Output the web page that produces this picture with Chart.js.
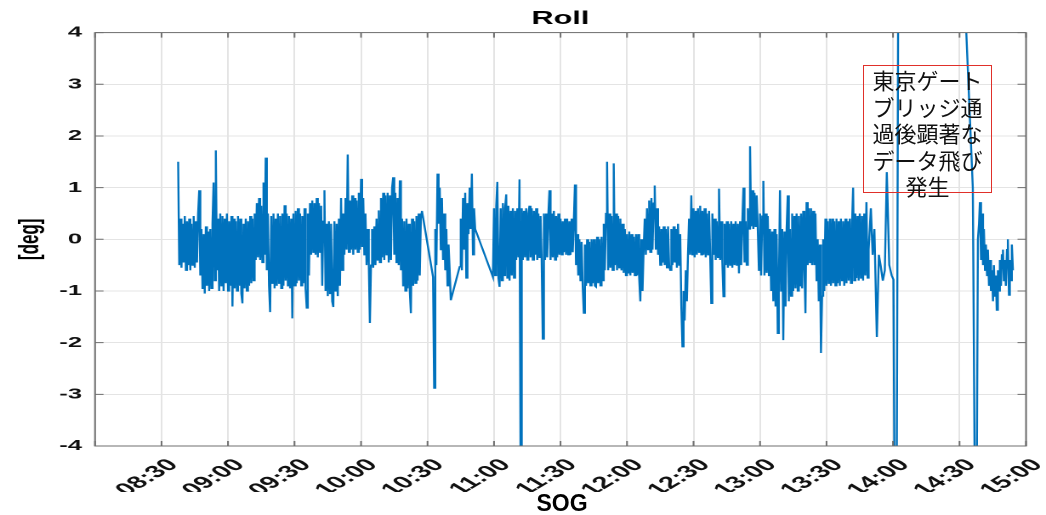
<!DOCTYPE html>
<html>
<head>
<meta charset="utf-8">
<title>Roll</title>
<script src="https://cdn.jsdelivr.net/npm/chart.js"></script>
<style>
  html, body { margin: 0; padding: 0; background: #fff; overflow: hidden; }
  /* the source figure was stretched sideways, so the chart is drawn narrow and scaled */
  #wrap { position: absolute; left: 0; top: 0; width: 615px; height: 515px; transform: scaleX(1.7008); transform-origin: 0 0; }
  #note { position: absolute; left: 863px; top: 65px; width: 129px; height: 128px; box-sizing: border-box;
          border: 1.5px solid #e0302a; font-family: "Noto Sans CJK JP"; font-size: 22px; line-height: 26.5px;
          text-align: center; color: #111; }
  #sog { position: absolute; left: 512px; top: 490px; width: 100px; text-align: center;
         font-family: "Liberation Sans"; font-weight: bold; font-size: 23px; line-height: 26px; color: #000; }
</style>
</head>
<body>
<div id="wrap"><canvas id="rollChart" width="615" height="515"></canvas></div>
<div id="note">東京ゲート<br>ブリッジ通<br>過後顕著な<br>データ飛び<br>発生</div>
<div id="sog">SOG</div>
<script>
// minutes after 08:00, one sample every half minute inside each logged stretch
const sampleStep = 0.5;
const segmentStarts = [37.5, 152.5, 164.5, 179.5];

// roll [deg]
const segA = [
  1.5,-0.5,0.4,-0.55,0.3,-0.45,0.45,-0.6,0.35,-0.5,
  0.4,-0.6,0.3,-0.5,0.45,-0.55,0.35,-0.45,0.5,0.95,
  -0.7,0.2,-0.95,0.1,-1.05,0.25,-0.9,0.15,-1.0,0.2,
  -0.95,0.3,1.1,-0.8,1.72,-0.6,0.4,-1.0,0.5,-0.9,
  0.45,-1.0,0.4,-0.85,0.5,-1.0,0.35,-0.9,0.45,-1.3,
  0.4,-0.95,0.35,-1.0,0.45,-0.9,0.4,-1.05,-1.24,0.3,
  -0.95,0.4,-1.0,0.35,-0.9,0.45,-0.85,0.4,-0.8,0.5,
  -0.4,0.7,-0.35,0.8,-0.4,0.65,-0.45,1.1,-0.3,1.58,
  -0.6,0.5,-0.9,-1.41,0.45,-0.85,0.5,-0.95,0.4,-0.9,
  0.5,-0.85,0.45,-0.95,0.5,-0.9,0.66,-0.8,0.5,-0.9,
  0.45,-0.95,0.4,-1.53,0.5,-0.9,0.55,-0.85,0.6,-0.8,
  0.5,-0.9,0.45,-0.85,0.6,-0.95,-1.33,0.5,-0.7,0.7,
  -0.3,0.75,-0.25,0.7,-0.3,0.8,-0.35,0.7,-0.25,0.65,
  -0.9,0.35,0.95,-1.0,0.3,-1.1,0.35,-1.05,0.3,-1.2,
  -1.31,0.35,-1.0,0.3,-1.1,0.4,-0.9,0.8,-0.6,0.5,
  -0.3,0.8,-0.2,1.64,-0.25,0.75,-0.2,0.85,-0.3,0.8,
  -0.2,0.75,-0.25,0.9,-0.2,1.17,-0.15,0.8,-0.3,0.5,
  -0.5,0.2,-0.45,-1.62,-0.5,0.2,-0.55,0.25,-0.5,0.4,
  -0.4,0.56,-0.45,0.8,-0.35,0.9,-0.4,0.85,-0.3,0.9,
  -0.45,0.85,-0.4,1.0,1.2,-0.3,0.9,-0.45,0.8,-0.5,
  1.14,-0.6,0.4,-0.9,0.35,-1.0,0.4,-0.95,0.3,-1.0,
  -1.43,0.4,-0.9,0.35,-0.85,0.45,-0.8,0.5,-0.7,0.4,
  0.55
];
const segB = [-0.73,-2.88,0.2,-0.5,1.27,0.3,1.0,-0.2,0.8,-0.4,0.5,-0.6,0.2,-0.9,-0.1,-0.6,-1.18];
const segC = [-0.53,0.4,-0.6,0.8,-0.2,0.9,-0.75,0.7,0.1,1.0,0.2,1.27,-0.3,0.6,0.2];
const segD = [
  -0.73,0.6,-0.7,0.65,1.11,-0.75,-0.92,0.6,-0.8,0.7,
  -0.7,0.6,0.87,-0.75,0.65,-0.8,0.55,-0.7,0.6,-0.75,
  0.55,-0.4,0.6,-0.35,1.16,-4.6,0.6,-0.4,0.55,-0.35,
  0.6,-0.4,0.5,0.65,-0.35,0.6,-0.4,0.55,-0.3,0.6,
  -0.4,0.5,-0.35,0.45,-0.4,-1.93,0.5,-0.4,0.5,-0.35,
  0.45,0.95,-0.4,0.5,-0.35,0.55,-0.4,0.45,-0.35,0.5,
  -0.3,0.4,-0.3,0.35,-0.25,0.4,-0.3,0.4,-0.3,0.35,
  -0.3,0.4,-0.25,0.35,1.06,-0.5,0.1,-0.7,0.0,-0.8,
  -0.05,-0.9,-1.43,-0.1,-0.9,0.0,-0.85,-0.05,-0.9,0.0,
  -0.85,0.0,-0.9,-0.92,0.05,-0.85,0.0,-0.9,0.05,-0.8,
  0.3,-0.6,0.5,1.5,-0.6,0.5,-0.55,0.45,-0.6,1.47,
  -0.5,0.5,-0.6,0.45,-0.55,0.4,-0.6,0.3,-0.65,0.2,
  -0.7,0.1,-0.65,0.15,-0.7,0.1,-0.65,0.05,-0.7,0.1,
  -0.7,0.1,-0.75,-1.2,0.0,-1.0,-0.2,0.4,-0.3,0.6,
  -0.2,0.75,-0.25,0.8,-0.2,0.7,1.04,-0.2,0.6,-0.3,
  0.25,-0.5,0.2,-0.45,0.25,-0.5,0.2,-0.55,0.25,-0.5,
  -0.6,0.2,-0.5,0.25,-0.45,0.2,-0.55,0.3,-0.5,0.1,
  -1.3,-2.08,-1.0,-1.57,-0.6,-1.2,-0.3,0.4,-0.3,0.85,
  -0.3,0.6,-0.35,0.55,-0.3,0.6,-0.25,0.65,-0.3,0.55,
  -0.3,0.6,-0.35,0.5,-0.3,0.55,-0.25,-1.24,0.5,-0.3,
  0.4,-0.4,0.35,-0.35,0.98,-0.4,0.35,-0.45,-1.11,0.3,
  -0.5,0.35,-0.55,0.3,-0.5,0.35,-0.55,0.3,-0.5,0.35,
  -0.5,0.3,-0.66,0.35,-0.5,0.3,1.0,-0.45,0.35,-0.5,
  0.6,0.2,1.8,0.25,0.95,0.2,0.9,0.25,0.85,0.2,
  -0.6,0.5,-0.7,0.45,1.13,-0.7,0.5,-0.65,0.45,-0.7,
  0.2,-1.0,0.15,-1.2,0.2,-1.3,0.1,-1.82,-0.9,0.95,
  -1.0,0.2,-1.95,0.15,-1.3,0.2,0.85,-1.2,0.2,-1.1,
  0.5,-1.0,0.45,-0.95,0.5,-1.0,0.45,-0.9,0.5,-0.95,
  0.55,-0.5,-1.43,0.72,-0.5,0.6,-0.45,0.6,-0.5,0.55,
  -0.5,0.5,-0.8,0.0,-1.2,-0.1,-2.2,-1.1,0.0,-1.0,
  0.4,-0.9,0.35,-0.85,0.4,-0.9,0.4,-0.85,0.35,-0.9,
  0.4,-0.85,0.35,-0.9,0.4,-0.8,0.35,-0.9,0.4,-0.85,
  0.35,-0.8,0.4,-0.85,0.3,1.0,-0.8,0.5,-0.75,0.45,
  -0.8,0.5,-0.75,0.45,-0.8,0.5,-0.7,0.72,-0.75,-0.2
];

// after the bridge the log is sparse and jumps far off scale
const tailTimes = [
  350.0,350.8,351.6,352.7,353.6,354.4,355.4,356.3,357.2,358.3,359.4,360.2,361.3,362.7,363.6,
  391.1,396.0,397.4,398.3,398.8,399.2,399.7,400.1,400.6,401.0,401.5,401.9,402.4,402.8,403.3,
  403.7,404.2,404.6,405.1,405.5,406.0,406.4,406.8,407.3,407.7,408.2,408.7,409.1,409.6,410.0,
  410.5,410.9,411.4,411.8,412.3,412.7,413.2,413.6,414.1
];
const tailValues = [
  0.6,-0.3,0.2,-1.89,-0.3,-0.5,-0.8,-0.6,1.3,-0.5,-0.7,-0.78,-10,10,12,
  6,1.0,-8,0.0,0.3,0.72,-0.4,0.5,-0.5,0.2,-0.6,-0.1,-0.7,-0.2,-0.9,
  -0.4,-1.0,-0.6,-1.2,-0.5,-1.1,-0.7,-1.37,-0.6,-1.0,-0.4,-0.9,-0.3,-0.2,-0.8,
  -0.4,-0.9,-0.2,0.0,-1.08,-0.4,-0.8,-0.1,-0.6
];

const timeLabels = ["", "08:30", "09:00", "09:30", "10:00", "10:30", "11:00", "11:30",
  "12:00", "12:30", "13:00", "13:30", "14:00", "14:30", "15:00"];
const rollTicks = [-4, -3, -2, -1, 0, 1, 2, 3, 4];

const rollPoints = [];
[segA, segB, segC, segD].forEach((vals, s) => {
  vals.forEach((v, i) => rollPoints.push({ x: segmentStarts[s] + i * sampleStep, y: v }));
});
tailTimes.forEach((t, i) => rollPoints.push({ x: t, y: tailValues[i] }));

const boldFont = size => ({ family: "Liberation Sans", size: size, weight: "bold" });

// matlab style box with inward tick marks, and the strip hidden by the next panel
const frame = {
  id: "frame",
  afterDraw(chart) {
    const { ctx, chartArea: a, scales: { x, y } } = chart;
    ctx.save();
    ctx.strokeStyle = "#6f6f6f";
    ctx.lineWidth = 1;
    ctx.beginPath();
    x.ticks.forEach(t => {
      const p = x.getPixelForValue(t.value);
      ctx.moveTo(p, a.bottom); ctx.lineTo(p, a.bottom - 5);
      ctx.moveTo(p, a.top); ctx.lineTo(p, a.top + 5);
    });
    y.ticks.forEach(t => {
      const p = y.getPixelForValue(t.value);
      ctx.moveTo(a.left, p); ctx.lineTo(a.left + 5, p);
      ctx.moveTo(a.right, p); ctx.lineTo(a.right - 5, p);
    });
    ctx.stroke();
    ctx.strokeRect(a.left, a.top, a.right - a.left, a.bottom - a.top);
    ctx.fillStyle = "#fff";
    ctx.fillRect(0, 492, chart.width, chart.height - 492);
    ctx.restore();
  }
};

new Chart(document.getElementById("rollChart"), {
  type: "line",
  data: {
    datasets: [{
      label: "Roll",
      data: rollPoints,
      borderColor: "#0072BD",
      borderWidth: 1.2,
      pointRadius: 0,
      tension: 0,
      fill: false
    }]
  },
  options: {
    responsive: false,
    animation: false,
    devicePixelRatio: 2,
    layout: { padding: { left: 0, right: 11.75, top: 0, bottom: 0 } },
    plugins: {
      legend: { display: false },
      tooltip: { enabled: false },
      title: {
        display: true,
        text: "Roll",
        fullSize: false,
        color: "#000",
        font: boldFont(18),
        padding: { top: 8, bottom: 3 }
      }
    },
    scales: {
      x: {
        type: "linear",
        min: 0,
        max: 420,
        afterFit: s => { s.height = 69; s.paddingLeft = 0; s.paddingRight = 0; },
        grid: { color: "#e4e4e4", drawTicks: false },
        border: { display: false },
        ticks: {
          stepSize: 30,
          autoSkip: false,
          minRotation: 45,
          maxRotation: 45,
          padding: 9,
          labelOffset: 7,
          color: "#111",
          font: boldFont(17),
          callback: v => timeLabels[Math.round(v / 30)]
        }
      },
      y: {
        min: -4,
        max: 4,
        afterFit: s => { s.width = 55.86; },
        grid: { color: "#e4e4e4", drawTicks: false },
        border: { display: false },
        afterBuildTicks: s => { s.ticks = rollTicks.map(v => ({ value: v })); },
        ticks: { padding: 7.7, color: "#111", font: boldFont(15) },
        title: { display: true, text: "[deg]", color: "#000", font: boldFont(17), padding: { top: 7.4 } }
      }
    }
  },
  plugins: [frame]
});
</script>
</body>
</html>
